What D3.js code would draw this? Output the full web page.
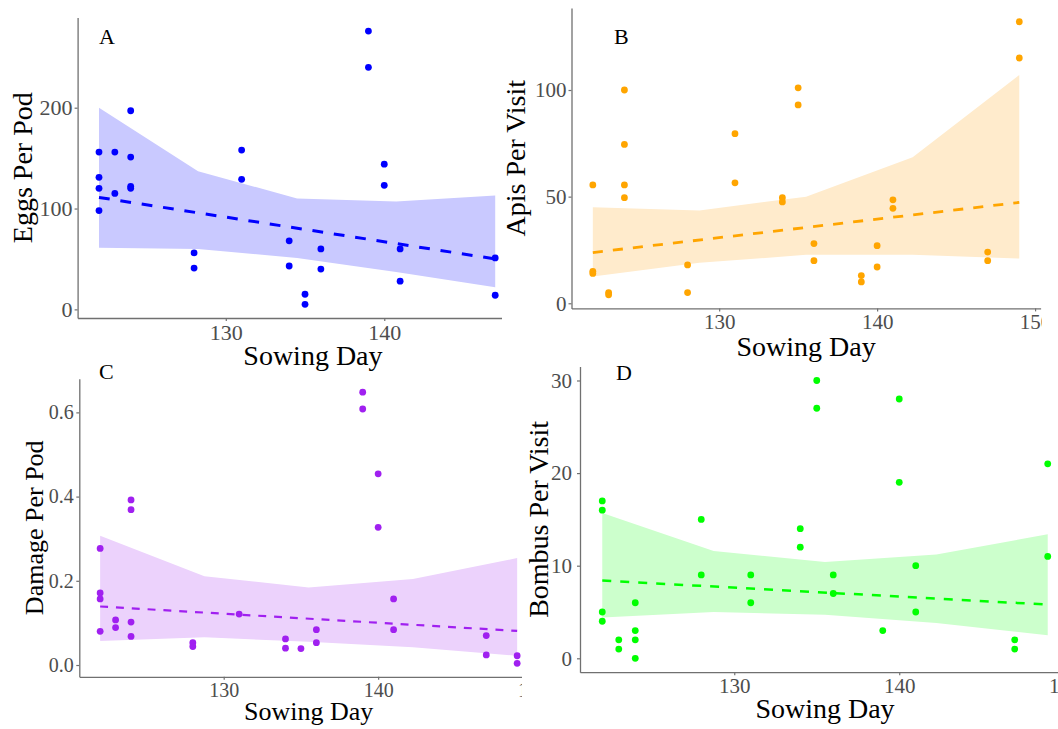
<!DOCTYPE html>
<html>
<head>
<meta charset="utf-8">
<script src="https://cdn.jsdelivr.net/npm/d3@7"></script>
<style>
  body { margin: 0; background: #fff; }
  text { font-family: "Liberation Serif", "Times New Roman", serif; }
</style>
</head>
<body>
<svg id="chart" width="1058" height="729"></svg>
<script>
// shared x axis
const xDomain = [120.65, 150.35];
const xTicks = [130, 140, 150];

// A - eggs per pod
const eggsDays = [122,122,122,122,123,123,124,124,124,124,128,128,131,131,134,134,135,135,136,136,139,139,140,140,141,141,147,147];
const eggsVals = [156,131,120,98,156,115,197,151,122,120,56,41,158,129,68,43,15,5,60,40,276,240,144,123,60,28,51,14];
const eggsBandDays = [122, 128.25, 134.5, 140.75, 147];
const eggsUpper = [200, 137, 110, 107, 113];
const eggsLower = [61, 60, 51, 37, 22];
const eggsTrend = [111, 50];
const eggsTicks = [0, 100, 200];

// B - apis per visit
const apisDays = [122,122,122,123,123,124,124,124,124,128,128,131,131,134,134,135,135,136,136,139,139,140,140,141,141,147,147,149,149];
const apisVals = [55.5,15,14,5,4,100,74.5,55.5,49.5,18,5,79.5,56.5,49.5,47.5,101,93,28,20,13,10,27,17,48.5,44.5,24,20,132,115];
const bandDays = [122, 128.75, 135.5, 142.25, 149];
const apisUpper = [45, 43.5, 50, 68.5, 107];
const apisLower = [12.5, 19, 22.7, 22.7, 21];
const apisTrend = [23.8, 47.3];
const apisTicks = [0, 50, 100];

// C - damage per pod
const damageDays = [122,122,122,122,123,123,124,124,124,124,128,128,131,134,134,135,136,136,139,139,140,140,141,141,147,147,149,149];
const damageVals = [0.277,0.171,0.157,0.080,0.107,0.089,0.392,0.369,0.102,0.068,0.053,0.044,0.121,0.062,0.040,0.039,0.084,0.053,0.648,0.608,0.454,0.327,0.157,0.084,0.070,0.024,0.022,0.004];
const damageUpper = [0.307, 0.211, 0.184, 0.204, 0.254];
const damageLower = [0.057, 0.066, 0.055, 0.042, 0.022];
const damageTrend = [0.139, 0.081];
const damageTicks = [0, 0.2, 0.4, 0.6];

// D - bombus per visit
const bombusDays = [122,122,122,122,123,123,124,124,124,124,128,128,131,131,134,134,135,135,136,136,139,140,140,141,141,147,147,149,149];
const bombusVals = [17,16,5,4,2,1,6,3,2,0,15,9,9,6,14,12,30,27,9,7,3,28,19,10,5,2,1,21,11];
const bombusUpper = [15.7, 11.6, 10.4, 11.2, 13.4];
const bombusLower = [4.4, 5.0, 4.7, 3.8, 2.5];
const bombusTrend = [8.4, 5.8];
const bombusTicks = [0, 10, 20, 30];

const svg = d3.select("#chart");

// each panel was a separate image, cropped where they were tiled
const panels = [
  { letter: "A", ytitle: "Eggs Per Pod", days: eggsDays, vals: eggsVals,
    bandDays: eggsBandDays, upper: eggsUpper, lower: eggsLower, trend: eggsTrend,
    yTicks: eggsTicks, yFmt: d3.format("d"), yDomain: [-8.55, 289.55],
    colour: "#0000ff", fill: "#c9c9ff", lw: 3,
    clip: [0, 0, 502, 374], left: 77.6, right: 548.3, top: 17.4, bottom: 318,
    tickFont: 22, titleFont: 28, ytitleX: 32, xtitleY: 365, yPad: 2, letterPos: [99, 44] },
  { letter: "B", ytitle: "Apis Per Visit", days: apisDays, vals: apisVals,
    bandDays: bandDays, upper: apisUpper, lower: apisLower, trend: apisTrend,
    yTicks: apisTicks, yFmt: d3.format("d"), yDomain: [-2.4, 138.4],
    colour: "#ffa500", fill: "#ffebcc", lw: 2.8,
    clip: [502, 0, 540, 374], left: 571.5, right: 1040.6, top: 8.1, bottom: 308.4,
    tickFont: 21, titleFont: 28, ytitleX: 525, xtitleY: 356, yPad: 2, letterPos: [614, 44] },
  { letter: "C", ytitle: "Damage Per Pod", days: damageDays, vals: damageVals,
    bandDays: bandDays, upper: damageUpper, lower: damageLower, trend: damageTrend,
    yTicks: damageTicks, yFmt: d3.format(".1f"), yDomain: [-0.028, 0.68],
    colour: "#a020f0", fill: "#ecd2fc", lw: 2.2,
    clip: [0, 362, 522, 367], left: 79.3, right: 538, top: 378.7, bottom: 676.8,
    tickFont: 20, titleFont: 26, ytitleX: 43, xtitleY: 720, yPad: 2.5, letterPos: [99, 379] },
  { letter: "D", ytitle: "Bombus Per Visit", days: bombusDays, vals: bombusVals,
    bandDays: bandDays, upper: bombusUpper, lower: bombusLower, trend: bombusTrend,
    yTicks: bombusTicks, yFmt: d3.format("d"), yDomain: [-1.5, 31.5],
    colour: "#00ff00", fill: "#ccffcc", lw: 2.5,
    clip: [522, 362, 536, 367], left: 580, right: 1070, top: 366.6, bottom: 672.2,
    tickFont: 21, titleFont: 28, ytitleX: 548, xtitleY: 718, yPad: 5, letterPos: [616, 380] }
];

function drawPanel(p) {
  // nested svg clips anything outside the crop box
  const holder = svg.append("svg")
    .attr("x", p.clip[0]).attr("y", p.clip[1])
    .attr("width", p.clip[2]).attr("height", p.clip[3]);
  const g = holder.append("g")
    .attr("transform", `translate(${-p.clip[0]},${-p.clip[1]})`);

  const x = d3.scaleLinear().domain(xDomain).range([p.left, p.right]);
  const y = d3.scaleLinear().domain(p.yDomain).range([p.bottom, p.top]);

  // confidence band
  const band = d3.area()
    .x(d => x(d.day))
    .y0(d => y(d.lo))
    .y1(d => y(d.hi));
  g.append("path")
    .datum(p.bandDays.map((d, i) => ({ day: d, lo: p.lower[i], hi: p.upper[i] })))
    .attr("fill", p.fill)
    .attr("d", band);

  // points
  g.selectAll(".pt")
    .data(p.days.map((d, i) => ({ day: d, v: p.vals[i] })))
    .enter().append("circle")
    .attr("class", "pt")
    .attr("cx", d => x(d.day))
    .attr("cy", d => y(d.v))
    .attr("r", 3.4)
    .attr("fill", p.colour);

  // fitted line, dashed
  const ends = [p.bandDays[0], p.bandDays[p.bandDays.length - 1]];
  g.append("path")
    .datum(ends.map((d, i) => ({ day: d, v: p.trend[i] })))
    .attr("fill", "none")
    .attr("stroke", p.colour)
    .attr("stroke-width", p.lw)
    .attr("stroke-dasharray", `${p.lw * 3.6},${p.lw * 3.6}`)
    .attr("d", d3.line().x(d => x(d.day)).y(d => y(d.v)));

  // axes
  const xAxis = g.append("g")
    .attr("transform", `translate(0,${p.bottom})`)
    .call(d3.axisBottom(x).tickValues(xTicks).tickSize(3).tickPadding(3).tickSizeOuter(0));
  const yAxis = g.append("g")
    .attr("transform", `translate(${p.left},0)`)
    .call(d3.axisLeft(y).tickValues(p.yTicks).tickFormat(p.yFmt).tickSize(3).tickPadding(p.yPad).tickSizeOuter(0));

  [xAxis, yAxis].forEach(a => {
    a.attr("font-family", null).attr("font-size", null);
    a.select(".domain").attr("stroke", "#707070").attr("stroke-width", 1.3);
    a.selectAll(".tick line").attr("stroke", "#707070").attr("stroke-width", 1.2);
    a.selectAll(".tick text").attr("fill", "#4d4d4d").style("font-size", p.tickFont + "px");
  });

  // titles
  g.append("text")
    .attr("x", (p.left + p.right) / 2)
    .attr("y", p.xtitleY)
    .attr("text-anchor", "middle")
    .style("font-size", p.titleFont + "px")
    .text("Sowing Day");

  g.append("text")
    .attr("transform", `translate(${p.ytitleX},${(p.top + p.bottom) / 2}) rotate(-90)`)
    .attr("text-anchor", "middle")
    .style("font-size", p.titleFont + "px")
    .text(p.ytitle);

  g.append("text")
    .attr("x", p.letterPos[0])
    .attr("y", p.letterPos[1])
    .style("font-size", "22px")
    .text(p.letter);
}

panels.forEach(drawPanel);
</script>
</body>
</html>
